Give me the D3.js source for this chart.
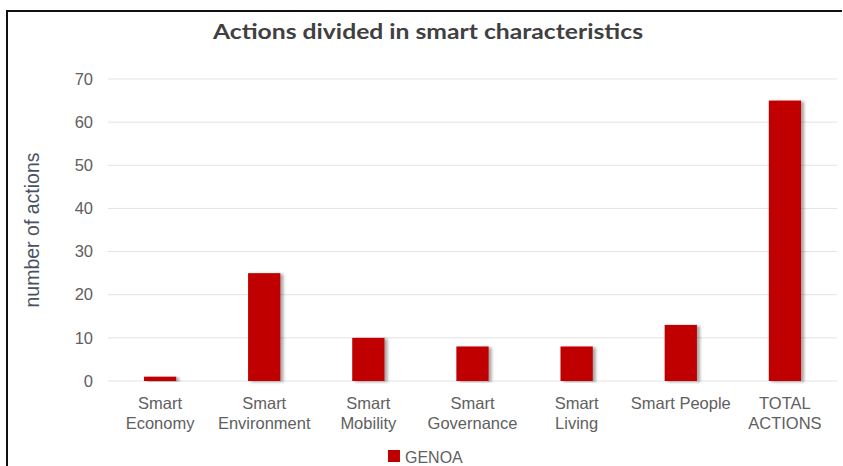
<!DOCTYPE html>
<html>
<head>
<meta charset="utf-8">
<script src="https://cdn.jsdelivr.net/npm/d3@7"></script>
<style>
  body { margin: 0; background: #fff; }
  svg { display: block; }
</style>
</head>
<body>
<svg id="chart"></svg>
<script>
const categories = [
    ["Smart", "Economy"],
    ["Smart", "Environment"],
    ["Smart", "Mobility"],
    ["Smart", "Governance"],
    ["Smart", "Living"],
    ["Smart People"],
    ["TOTAL", "ACTIONS"]
];
const genoa = [1, 25, 10, 8, 8, 13, 65];
const yTicks = [0, 10, 20, 30, 40, 50, 60, 70];

const width = 843, height = 466;
const margin = {top: 79, right: 6, bottom: 85, left: 108};

const svg = d3.select("#chart")
    .attr("width", width)
    .attr("height", height);

// frame
svg.append("path")
    .attr("d", `M7,${height} V11 H${width - 1}`)
    .attr("fill", "none")
    .attr("stroke", "#111")
    .attr("stroke-width", 2);

const x = d3.scaleBand()
    .domain(categories.map((d, i) => i))
    .range([margin.left, width - margin.right])
    .paddingInner(0.69)
    .paddingOuter(0.345);

const y = d3.scaleLinear()
    .domain([0, 70])
    .range([height - margin.bottom, margin.top]);

// gridlines
svg.append("g")
    .selectAll("line")
    .data(yTicks)
    .join("line")
    .attr("x1", margin.left)
    .attr("x2", width - margin.right)
    .attr("y1", d => y(d))
    .attr("y2", d => y(d))
    .attr("stroke", "#e3e3e3")
    .attr("stroke-width", 1);

// y tick labels
svg.append("g")
    .selectAll("text")
    .data(yTicks)
    .join("text")
    .attr("x", 93)
    .attr("y", d => y(d))
    .attr("dy", "0.35em")
    .attr("text-anchor", "end")
    .style("font", "16.5px 'Liberation Sans', Arial, sans-serif")
    .attr("fill", "#606060")
    .text(d => d);

// y axis title
svg.append("text")
    .attr("transform", `translate(39,${y(35)}) rotate(-90)`)
    .attr("text-anchor", "middle")
    .style("font", "19.5px 'Liberation Sans', Arial, sans-serif")
    .attr("fill", "#4a5262")
    .text("number of actions");

// shadow filter
const defs = svg.append("defs");
const f = defs.append("filter").attr("id", "shadow")
    .attr("x", "-20%").attr("y", "-5%").attr("width", "150%").attr("height", "110%");
f.append("feDropShadow")
    .attr("dx", 3).attr("dy", 1)
    .attr("stdDeviation", 1.5)
    .attr("flood-color", "#000")
    .attr("flood-opacity", 0.35);

// bars
svg.append("g")
    .selectAll("rect")
    .data(genoa)
    .join("rect")
    .attr("x", (d, i) => x(i))
    .attr("y", d => y(d))
    .attr("width", x.bandwidth())
    .attr("height", d => y(0) - y(d))
    .attr("fill", "#c00000")
    .attr("filter", "url(#shadow)");

// x labels
const xl = svg.append("g")
    .selectAll("text")
    .data(categories)
    .join("text")
    .attr("x", (d, i) => x(i) + x.bandwidth() / 2)
    .attr("y", 409)
    .attr("text-anchor", "middle")
    .style("font", "16.5px 'Liberation Sans', Arial, sans-serif")
    .attr("fill", "#606060");
xl.selectAll("tspan")
    .data(d => d)
    .join("tspan")
    .attr("x", function() { return d3.select(this.parentNode).attr("x"); })
    .attr("dy", (d, i) => i === 0 ? 0 : 19.5)
    .text(d => d);

// title
svg.append("text")
    .attr("x", 428)
    .attr("y", 39)
    .attr("text-anchor", "middle")
    .attr("textLength", 430)
    .attr("lengthAdjust", "spacingAndGlyphs")
    .style("font", "bold 21px Lato, 'DejaVu Sans', sans-serif")
    .attr("fill", "#404040")
    .text("Actions divided in smart characteristics");

// legend
const lg = svg.append("g").attr("transform", "translate(388,450)");
lg.append("rect")
    .attr("width", 12).attr("height", 12)
    .attr("fill", "#c00000");
lg.append("text")
    .attr("x", 17)
    .attr("y", 13)
    .style("font", "16px 'Liberation Sans', Arial, sans-serif")
    .attr("fill", "#606060")
    .text("GENOA");
</script>
</body>
</html>
